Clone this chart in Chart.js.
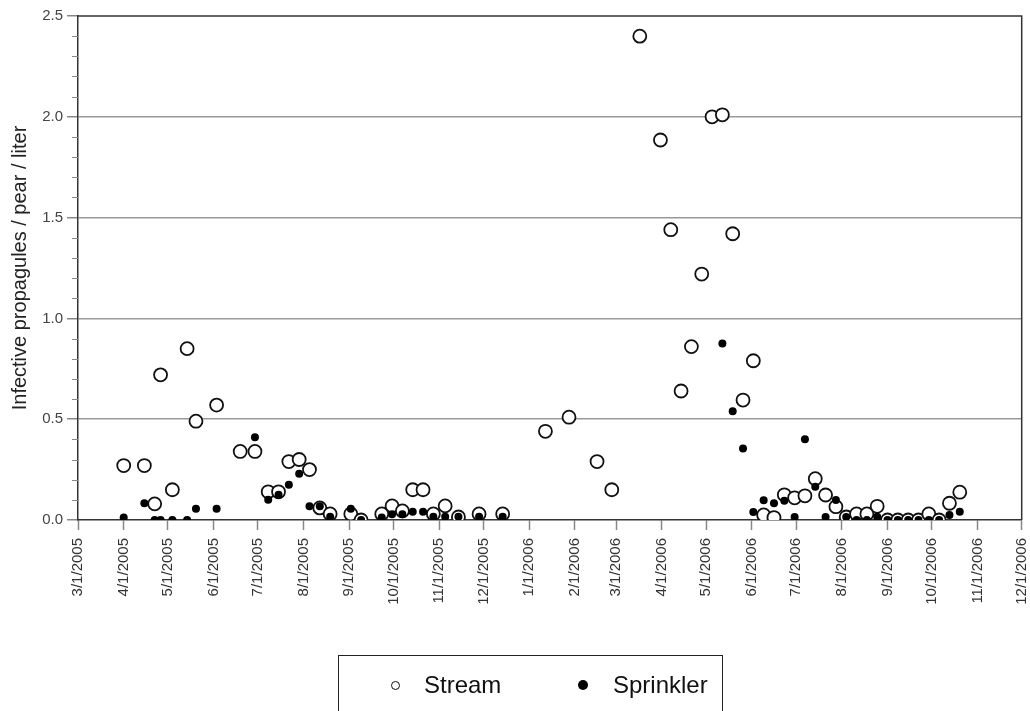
<!DOCTYPE html>
<html>
<head>
<meta charset="utf-8">
<script src="https://cdn.jsdelivr.net/npm/chart.js@4.4.1/dist/chart.umd.min.js"></script>
<style>
  body { margin: 0; background: #fff; overflow: hidden; }
  #wrap { position: relative; width: 1030px; height: 711px; overflow: hidden; }
  #legend {
    position: absolute; left: 338px; top: 655px; width: 385px; height: 80px;
    border: 1.5px solid #222; box-sizing: border-box;
    font-family: "Liberation Sans", Arial, sans-serif; font-size: 24px; color: #111;
  }
  .item { position: absolute; top: 14px; line-height: 30px; }
  .mark { position: absolute; top: 26px; box-sizing: border-box; border-radius: 50%; }
</style>
</head>
<body>
<div id="wrap">
  <canvas id="chart" width="1030" height="711"></canvas>
  <div id="legend"></div>
</div>
<script>
// sample dates
const streamDates = ['2005-04-01','2005-04-15','2005-04-22','2005-04-26','2005-05-04','2005-05-14','2005-05-20',
  '2005-06-03','2005-06-19','2005-06-29','2005-07-08','2005-07-15','2005-07-22','2005-07-29','2005-08-05',
  '2005-08-12','2005-08-19','2005-09-02','2005-09-09','2005-09-23','2005-09-30','2005-10-07','2005-10-14',
  '2005-10-21','2005-10-28','2005-11-05','2005-11-14','2005-11-28','2005-12-14',
  '2006-01-12','2006-01-28','2006-02-16','2006-02-26','2006-03-17','2006-03-31','2006-04-07','2006-04-14',
  '2006-04-21','2006-04-28','2006-05-05','2006-05-12','2006-05-19','2006-05-26','2006-06-02','2006-06-09',
  '2006-06-16','2006-06-23','2006-06-30','2006-07-07','2006-07-14','2006-07-21','2006-07-28','2006-08-04',
  '2006-08-11','2006-08-18','2006-08-25','2006-09-01','2006-09-08','2006-09-15','2006-09-22','2006-09-29',
  '2006-10-06','2006-10-13','2006-10-20']
const streamValues = [0.27,0.27,0.08,0.72,0.15,0.85,0.49,
  0.57,0.34,0.34,0.14,0.14,0.29,0.30,0.25,
  0.06,0.03,0.03,0.0,0.03,0.07,0.045,0.15,
  0.15,0.03,0.07,0.015,0.03,0.03,
  0.44,0.51,0.29,0.15,2.40,1.885,1.44,0.64,
  0.86,1.22,2.00,2.01,1.42,0.595,0.79,0.025,
  0.012,0.125,0.11,0.12,0.205,0.124,0.066,0.015,
  0.03,0.03,0.068,0.0,0.0,0.0,0.0,0.03,
  0.0,0.083,0.138]

const sprinklerDates = ['2005-04-01','2005-04-15','2005-04-22','2005-04-26','2005-05-04','2005-05-14','2005-05-20',
  '2005-06-03','2005-06-29','2005-07-08','2005-07-15','2005-07-22','2005-07-29','2005-08-05','2005-08-12',
  '2005-08-19','2005-09-02','2005-09-09','2005-09-23','2005-09-30','2005-10-07','2005-10-14','2005-10-21',
  '2005-10-28','2005-11-05','2005-11-14','2005-11-28','2005-12-14',
  '2006-05-12','2006-05-19','2006-05-26','2006-06-02','2006-06-09','2006-06-16','2006-06-23','2006-06-30',
  '2006-07-07','2006-07-14','2006-07-21','2006-07-28','2006-08-04','2006-08-11','2006-08-18','2006-08-25',
  '2006-09-01','2006-09-08','2006-09-15','2006-09-22','2006-09-29','2006-10-06','2006-10-13','2006-10-20']
const sprinklerValues = [0.013,0.083,0,0,0,0,0.056,
  0.056,0.41,0.10,0.125,0.175,0.23,0.068,0.068,
  0.016,0.056,0,0.013,0.028,0.028,0.041,0.041,
  0.016,0.016,0.016,0.016,0.016,
  0.875,0.54,0.355,0.04,0.098,0.083,0.096,0.015,
  0.40,0.165,0.015,0.099,0.015,0,0,0.016,
  0,0,0,0,0,0,0.025,0.041]

const monthTicks = ['2005-03-01','2005-04-01','2005-05-01','2005-06-01','2005-07-01','2005-08-01','2005-09-01',
  '2005-10-01','2005-11-01','2005-12-01','2006-01-01','2006-02-01','2006-03-01','2006-04-01','2006-05-01',
  '2006-06-01','2006-07-01','2006-08-01','2006-09-01','2006-10-01','2006-11-01','2006-12-01']
const yTicks = [0, 0.5, 1.0, 1.5, 2.0, 2.5]

const ms = d => new Date(d).getTime()
function toPoints(dates, vals) {
  return dates.map((d, i) => ({x: ms(d), y: vals[i]}))
}
function fmtDate(v) {
  let d = new Date(v)
  return (d.getUTCMonth() + 1) + '/' + d.getUTCDate() + '/' + d.getUTCFullYear()
}

const font = "'Liberation Sans', Arial, sans-serif"

// frame round the plot + minor ticks on the y axis
const framePlugin = {
  id: 'frame',
  beforeDatasetsDraw(chart) {
    let a = chart.chartArea, c = chart.ctx, y = chart.scales.y
    c.save()
    c.strokeStyle = '#333'
    c.lineWidth = 1.5
    c.beginPath()
    c.moveTo(a.left, a.top); c.lineTo(a.right, a.top); c.lineTo(a.right, a.bottom)
    c.stroke()
    c.strokeStyle = '#888'
    c.lineWidth = 1
    for (let i = 1; i < 25; i++) {
      if (i % 5 === 0) continue
      let py = Math.round(y.getPixelForValue(i / 10)) + 0.5
      c.beginPath(); c.moveTo(a.left - 6, py); c.lineTo(a.left, py); c.stroke()
    }
    c.restore()
  }
}

const chart = new Chart(document.getElementById('chart'), {
  type: 'scatter',
  data: {
    datasets: [
      {
        label: 'Stream',
        data: toPoints(streamDates, streamValues),
        pointRadius: 6.5,
        pointHoverRadius: 6.5,
        borderWidth: 1.8,
        borderColor: '#111',
        backgroundColor: '#fff',
        order: 1
      },
      {
        label: 'Sprinkler',
        data: toPoints(sprinklerDates, sprinklerValues),
        pointRadius: 4,
        pointHoverRadius: 4,
        borderWidth: 0,
        borderColor: '#000',
        backgroundColor: '#000',
        order: 0
      }
    ]
  },
  options: {
    responsive: false,
    animation: false,
    devicePixelRatio: 1,
    layout: { padding: { left: 0, right: 8, top: 16, bottom: 0 } },
    plugins: {
      legend: { display: false },
      tooltip: { enabled: false }
    },
    scales: {
      x: {
        type: 'linear',
        min: ms(monthTicks[0]),
        max: ms(monthTicks[monthTicks.length - 1]),
        afterBuildTicks: s => { s.ticks = monthTicks.map(d => ({value: ms(d)})) },
        afterFit: s => { s.height = 191; s.paddingLeft = 0; s.paddingRight = 0 },
        ticks: {
          autoSkip: false,
          minRotation: 90,
          maxRotation: 90,
          padding: 8,
          color: '#333',
          font: { family: font, size: 15 },
          callback: v => fmtDate(v)
        },
        grid: { drawOnChartArea: false, tickLength: 10, tickColor: '#888', tickWidth: 1.5 },
        border: { color: '#333', width: 1.5 }
      },
      y: {
        min: 0,
        max: 2.5,
        afterBuildTicks: s => { s.ticks = yTicks.map(v => ({value: v})) },
        afterFit: s => { s.width = 78 },
        ticks: {
          padding: 4,
          color: '#444',
          font: { family: font, size: 15 },
          callback: v => v.toFixed(1)
        },
        grid: {
          color: c => (c.tick && c.tick.value > 0 && c.tick.value < 2.5) ? '#999' : 'rgba(0,0,0,0)',
          lineWidth: 1.5,
          tickLength: 11,
          tickColor: '#888'
        },
        border: { color: '#333', width: 1.5 },
        title: {
          display: true,
          text: 'Infective propagules / pear / liter',
          color: '#222',
          font: { family: font, size: 20 },
          padding: { top: 8, bottom: 0 }
        }
      }
    }
  },
  plugins: [framePlugin]
})

// legend box under the chart
let legend = document.getElementById('legend')
let spots = [{mark: 56, text: 85, size: 9}, {mark: 244, text: 274, size: 10}]
chart.data.datasets.forEach((ds, i) => {
  let m = document.createElement('span')
  m.className = 'mark'
  let s = spots[i].size
  m.style.left = (spots[i].mark - s / 2) + 'px'
  m.style.top = (29 - s / 2) + 'px'
  m.style.width = s + 'px'
  m.style.height = s + 'px'
  m.style.background = ds.backgroundColor
  m.style.border = ds.borderWidth ? '1.3px solid ' + ds.borderColor : 'none'
  legend.appendChild(m)
  let t = document.createElement('span')
  t.className = 'item'
  t.style.left = spots[i].text + 'px'
  t.textContent = ds.label
  legend.appendChild(t)
})
</script>
</body>
</html>
